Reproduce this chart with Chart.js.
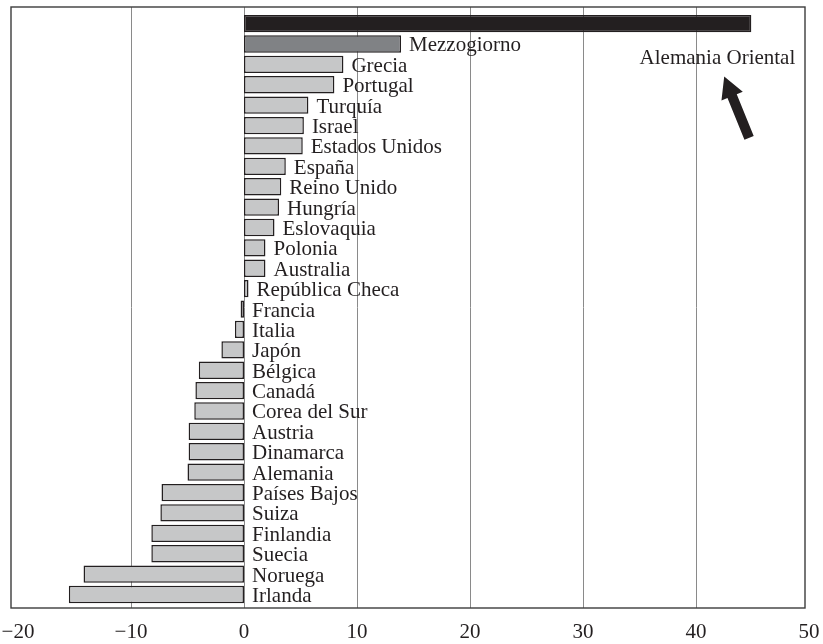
<!DOCTYPE html>
<html>
<head>
<meta charset="utf-8">
<script src="https://cdn.jsdelivr.net/npm/chart.js@4.4.0/dist/chart.umd.min.js"></script>
<style>
html, body { margin: 0; padding: 0; background: #fff; }
#wrap { width: 823px; height: 644px; }
</style>
</head>
<body>
<div id="wrap"><canvas id="myChart" width="823" height="644"></canvas></div>
<script>
// datos
var paises = ['Alemania Oriental', 'Mezzogiorno', 'Grecia', 'Portugal', 'Turquía', 'Israel',
    'Estados Unidos', 'España', 'Reino Unido', 'Hungría', 'Eslovaquia', 'Polonia', 'Australia',
    'República Checa', 'Francia', 'Italia', 'Japón', 'Bélgica', 'Canadá', 'Corea del Sur',
    'Austria', 'Dinamarca', 'Alemania', 'Países Bajos', 'Suiza', 'Finlandia', 'Suecia',
    'Noruega', 'Irlanda'];
var valores = [44.9, 13.9, 8.8, 8.0, 5.7, 5.3, 5.2, 3.7, 3.3, 3.1, 2.7, 1.9, 1.9, 0.4,
    -0.3, -0.8, -2.0, -4.0, -4.3, -4.4, -4.9, -4.9, -5.0, -7.3, -7.4, -8.2, -8.2, -14.2, -15.5];
var ticksX = [-20, -10, 0, 10, 20, 30, 40, 50];
var nota = 'Alemania Oriental';

var FUENTE = "21px 'Liberation Serif', 'Times New Roman', serif";
var TINTA = '#231f20';

var fondos = paises.map(function (p, i) {
    if (i == 0) return '#231f20';
    if (i == 1) return '#808285';
    return '#c6c7c8';
});

// marco y lineas verticales
var marcoPlugin = {
    id: 'marco',
    beforeDatasetsDraw: function (chart) {
        var ctx = chart.ctx;
        var a = chart.chartArea;
        var x = chart.scales.x;
        var top = a.top - 6.4, bottom = a.bottom + 3.3;
        ctx.save();
        ctx.strokeStyle = '#8a8a8a';
        ctx.lineWidth = 1;
        ticksX.forEach(function (t) {
            var px = Math.round(x.getPixelForValue(t)) + 0.5;
            if (px <= a.left + 10 || px >= a.right - 10) return;
            ctx.beginPath();
            ctx.moveTo(px, top);
            ctx.lineTo(px, bottom);
            ctx.stroke();
        });
        ctx.strokeStyle = '#3c3c3c';
        ctx.lineWidth = 1.4;
        ctx.strokeRect(a.left, top, a.right - a.left, bottom - top);
        ctx.restore();
    }
};

// nombres junto a las barras + flecha
var etiquetasPlugin = {
    id: 'etiquetas',
    afterDatasetsDraw: function (chart) {
        var ctx = chart.ctx;
        var x = chart.scales.x, y = chart.scales.y;
        ctx.save();
        ctx.font = FUENTE;
        ctx.fillStyle = TINTA;
        ctx.textBaseline = 'alphabetic';
        ctx.textAlign = 'left';
        for (var i = 1; i < paises.length; i++) {
            var px = x.getPixelForValue(Math.max(valores[i], 0)) + 8;
            var py = y.getPixelForValue(i) + 7.5;
            ctx.fillText(paises[i], px, py);
        }

        // nota "Alemania Oriental"
        var rowPx = function (r) {
            var r0 = Math.floor(r);
            return y.getPixelForValue(r0) + (r - r0) * (y.getPixelForValue(r0 + 1) - y.getPixelForValue(r0));
        };
        ctx.textAlign = 'center';
        ctx.textBaseline = 'middle';
        ctx.fillText(nota, x.getPixelForValue(41.9), rowPx(1.7));

        // flecha
        var x1 = x.getPixelForValue(44.7), y1 = rowPx(5.6);
        var x2 = x.getPixelForValue(42.5), y2 = rowPx(2.6);
        var dx = x2 - x1, dy = y2 - y1;
        var len = Math.sqrt(dx * dx + dy * dy);
        var ux = dx / len, uy = dy / len;
        var nx = -uy, ny = ux;
        var head = 21, hw = 11.5, sw = 5;
        var bx = x2 - ux * head, by = y2 - uy * head;
        ctx.fillStyle = TINTA;
        ctx.beginPath();
        ctx.moveTo(x1 + nx * sw, y1 + ny * sw);
        ctx.lineTo(bx + nx * sw, by + ny * sw);
        ctx.lineTo(bx + nx * hw, by + ny * hw);
        ctx.lineTo(x2, y2);
        ctx.lineTo(bx - nx * hw, by - ny * hw);
        ctx.lineTo(bx - nx * sw, by - ny * sw);
        ctx.lineTo(x1 - nx * sw, y1 - ny * sw);
        ctx.closePath();
        ctx.fill();
        ctx.restore();
    }
};

var grafico = new Chart('myChart', {
    type: 'bar',
    data: {
        labels: paises,
        datasets: [{
            data: valores,
            backgroundColor: fondos,
            borderColor: TINTA,
            borderWidth: 1.5,
            borderSkipped: false,
            barPercentage: 0.85,
            categoryPercentage: 1
        }]
    },
    options: {
        indexAxis: 'y',
        responsive: false,
        animation: false,
        events: [],
        layout: { padding: { top: 13.4, left: 11, right: 18, bottom: 0 } },
        plugins: {
            legend: { display: false },
            tooltip: { enabled: false }
        },
        scales: {
            x: {
                min: -20.62,
                max: 49.65,
                grid: { display: false },
                border: { display: false },
                afterBuildTicks: function (scale) {
                    scale.ticks = ticksX.map(function (v) { return { value: v }; });
                },
                afterFit: function (scale) {
                    scale.paddingLeft = 0;
                    scale.paddingRight = 0;
                    scale.height = 39.3;
                },
                ticks: {
                    padding: 7,
                    color: TINTA,
                    font: { family: "'Liberation Serif', 'Times New Roman', serif", size: 21 },
                    maxRotation: 0,
                    autoSkip: false,
                    callback: function (v) {
                        return v < 0 ? '\u2212' + Math.abs(v) : String(v);
                    }
                }
            },
            y: {
                display: false,
                offset: true
            }
        }
    },
    plugins: [marcoPlugin, etiquetasPlugin]
});
</script>
</body>
</html>
